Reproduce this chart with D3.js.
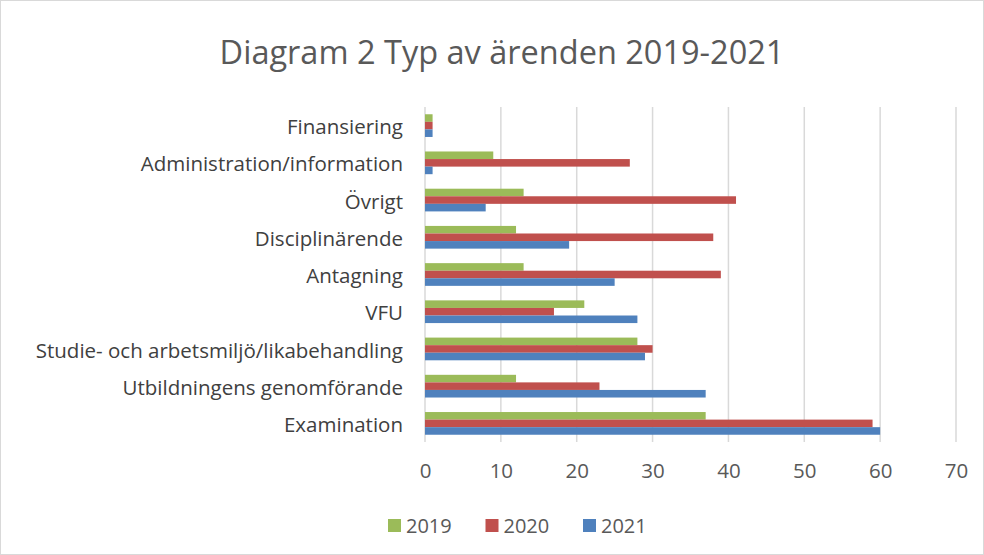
<!DOCTYPE html>
<html>
<head>
<meta charset="utf-8">
<script src="https://cdn.jsdelivr.net/npm/d3@7"></script>
<style>
  body { margin: 0; background: #fff; }
  text { font-family: "Open Sans", "Liberation Sans", sans-serif; fill: #595959; }
</style>
</head>
<body>
<div class="vis-bar"></div>
<script>
const categories = ['Examination', 'Utbildningens genomförande', 'Studie- och arbetsmiljö/likabehandling',
    'VFU', 'Antagning', 'Disciplinärende', 'Övrigt', 'Administration/information', 'Finansiering'];
const years = ['2019', '2020', '2021'];
const values2019 = [37, 12, 28, 21, 13, 12, 13, 9, 1];
const values2020 = [59, 23, 30, 17, 39, 38, 41, 27, 1];
const values2021 = [60, 37, 29, 28, 25, 19, 8, 1, 1];
const xTicks = [0, 10, 20, 30, 40, 50, 60, 70];

const series = [values2019, values2020, values2021];
const colors = ['#9BBB59', '#C0504D', '#4F81BD'];

const outerWidth = 984, outerHeight = 555;
const margin = {top: 107, right: 28, bottom: 113, left: 425};
const width = outerWidth - margin.left - margin.right;
const height = outerHeight - margin.top - margin.bottom;

const svg = d3.select('.vis-bar')
    .append('svg')
    .attr('width', outerWidth)
    .attr('height', outerHeight);

svg.append('rect')
    .attr('x', 0.5).attr('y', 0.5)
    .attr('width', outerWidth - 1).attr('height', outerHeight - 1)
    .attr('fill', '#fff')
    .attr('stroke', '#d9d9d9');

svg.append('text')
    .attr('x', 502)
    .attr('y', 64)
    .attr('text-anchor', 'middle')
    .style('font-size', '32.5px')
    .text('Diagram 2 Typ av ärenden 2019-2021');

const g = svg.append('g')
    .attr('transform', 'translate(' + margin.left + ',' + margin.top + ')');

const x = d3.scaleLinear().domain([0, 70]).range([0, width]);

// reversed: first category at the bottom
const y = d3.scaleBand()
    .domain(categories.slice().reverse())
    .range([0, height])
    .paddingInner(0.39)
    .paddingOuter(0.195);

const ySub = d3.scaleBand()
    .domain(years)
    .range([0, y.bandwidth()]);

g.selectAll('.grid')
    .data(xTicks)
    .enter().append('line')
    .attr('x1', d => x(d)).attr('x2', d => x(d))
    .attr('y1', 0).attr('y2', height)
    .attr('stroke', '#d9d9d9')
    .attr('stroke-width', 1.5);

const groups = g.selectAll('.cat')
    .data(categories)
    .enter().append('g')
    .attr('transform', d => 'translate(0,' + y(d) + ')');

groups.selectAll('rect')
    .data((d, i) => years.map((yr, j) => ({year: yr, value: series[j][i], color: colors[j]})))
    .enter().append('rect')
    .attr('x', x(0))
    .attr('y', d => ySub(d.year))
    .attr('width', d => x(d.value) - x(0))
    .attr('height', ySub.bandwidth())
    .attr('fill', d => d.color);

const yAxis = g.append('g')
    .attr('transform', 'translate(0,2)')
    .call(d3.axisLeft(y).tickSize(0).tickPadding(22));
yAxis.select('.domain').remove();
yAxis.selectAll('text')
    .style('font-size', '20.5px')
    .style('fill', '#404040')
    .style('font-family', '"Open Sans", sans-serif');

const xAxis = g.append('g')
    .attr('transform', 'translate(0,' + height + ')')
    .call(d3.axisBottom(x).tickValues(xTicks).tickSize(0).tickPadding(21));
xAxis.select('.domain').remove();
xAxis.selectAll('text')
    .style('font-size', '20.5px')
    .style('fill', '#595959')
    .style('font-family', '"Open Sans", sans-serif');

const legendG = svg.selectAll('.legend')
    .data(years)
    .enter().append('g')
    .attr('class', 'legend')
    .attr('transform', (d, i) => 'translate(' + (388 + i * 97.5) + ',' + 519 + ')');

legendG.append('rect')
    .attr('width', 13)
    .attr('height', 13)
    .attr('fill', (d, i) => colors[i]);

legendG.append('text')
    .attr('x', 18)
    .attr('y', 14)
    .style('font-size', '20px')
    .text(d => d);
</script>
</body>
</html>
